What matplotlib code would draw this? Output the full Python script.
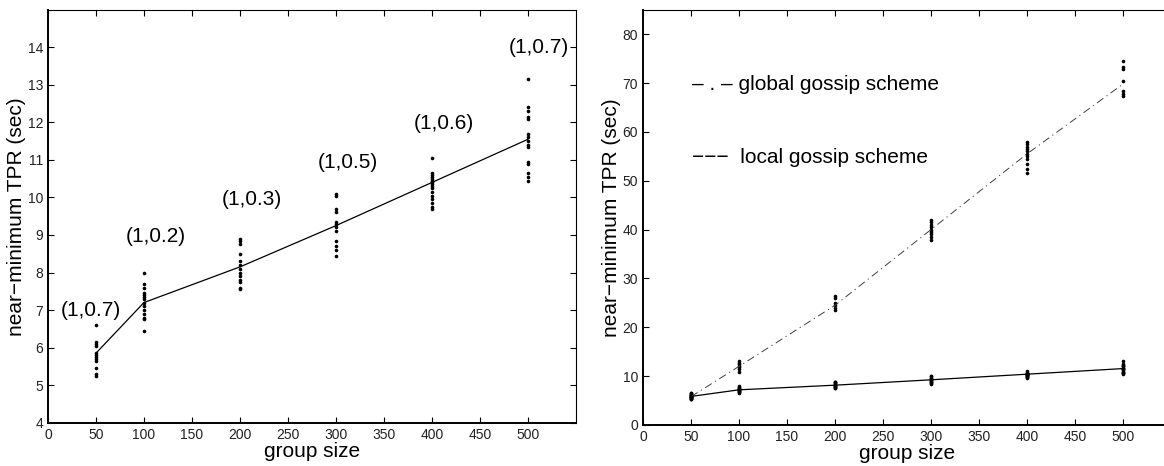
import matplotlib.pyplot as plt
import numpy as np

plt.rcParams['font.family'] = ['Liberation Sans', 'DejaVu Sans']

# group sizes
sizes = [50, 100, 200, 300, 400, 500]

# local gossip scheme: individual runs per group size
local_runs = [
    [5.25, 5.3, 5.45, 5.65, 5.7, 5.75, 5.8, 5.85, 6.05, 6.1, 6.15, 6.6],
    [6.45, 6.75, 6.8, 6.9, 7.0, 7.1, 7.2, 7.3, 7.35, 7.4, 7.45, 7.6, 7.7, 8.0],
    [7.55, 7.6, 7.75, 7.8, 7.9, 8.0, 8.1, 8.2, 8.3, 8.5, 8.75, 8.85, 8.9],
    [8.45, 8.6, 8.7, 8.85, 9.1, 9.2, 9.3, 9.35, 9.6, 9.7, 10.05, 10.1],
    [9.7, 9.75, 9.85, 9.95, 10.05, 10.15, 10.25, 10.3, 10.35, 10.4, 10.45,
     10.5, 10.55, 10.6, 10.65, 11.05],
    [10.45, 10.55, 10.65, 10.9, 10.95, 11.35, 11.4, 11.5, 11.6, 11.7, 12.1,
     12.15, 12.3, 12.4, 13.15],
]
local_mean = [5.85, 7.2, 8.15, 9.25, 10.4, 11.55]

# global gossip scheme
global_runs = [
    [5.3, 5.5, 5.7, 5.9, 6.1, 6.3, 6.5],
    [10.9, 11.5, 11.8, 12.1, 12.4, 12.7, 13.0],
    [23.5, 24.0, 24.5, 25.0, 26.0, 26.5],
    [37.8, 38.5, 39.0, 39.5, 40.0, 40.5, 41.0, 41.5, 42.0],
    [51.5, 52.5, 53.5, 54.5, 55.0, 55.5, 56.0, 56.5, 57.0, 57.5, 58.0],
    [67.3, 67.8, 68.3, 70.5, 72.8, 73.3, 74.5],
]
global_mean = [5.8, 12.0, 24.5, 40.0, 55.5, 69.8]

# (a, b) annotations on the left panel
ann_text = ['(1,0.7)', '(1,0.2)', '(1,0.3)', '(1,0.5)', '(1,0.6)', '(1,0.7)']
ann_x = [45, 112, 212, 312, 412, 511]
ann_y = [7.0, 8.95, 9.94, 10.94, 11.96, 14.0]


def scatter_runs(ax, runs):
    for x, vals in zip(sizes, runs):
        ax.plot([x] * len(vals), vals, 'o', color='k', ms=2.6, mew=0,
                linestyle='none')


def style(ax):
    ax.tick_params(direction='in', top=True, right=True, labelsize=10,
                   labelcolor='#222222', length=4, width=0.8)
    for s in ['left', 'bottom']:
        ax.spines[s].set_linewidth(1.4)
    for s in ['top', 'right']:
        ax.spines[s].set_linewidth(0.8)
    ax.set_xlabel('group size', fontsize=15, labelpad=0)
    ax.set_ylabel('near\u2212minimum TPR (sec)', fontsize=15, labelpad=1)


fig = plt.figure(figsize=(11.64, 4.66), dpi=100)

# left panel
ax1 = fig.add_axes([0.0412, 0.093, 0.4536, 0.886])
scatter_runs(ax1, local_runs)
ax1.plot(sizes, local_mean, '-', color='k', lw=0.9)
for t, x, y in zip(ann_text, ann_x, ann_y):
    ax1.text(x, y, t, fontsize=15, ha='center', va='center')
ax1.set_xlim(0, 550)
ax1.set_ylim(4, 15)
ax1.set_xticks(range(0, 501, 50))
ax1.set_yticks(range(4, 15))
style(ax1)

# right panel
ax2 = fig.add_axes([0.5524, 0.088, 0.4536, 0.891])
scatter_runs(ax2, global_runs)
scatter_runs(ax2, local_runs)
ax2.plot(sizes, global_mean, color='0.25', lw=0.7,
         linestyle=(0, (8, 4, 1.2, 4)))
ax2.plot(sizes, local_mean, '-', color='k', lw=0.9)
ax2.text(51, 69.7, '\u2013 . \u2013 global gossip scheme', fontsize=15,
         va='center')
ax2.text(51, 54.8, '\u2212\u2212\u2212  local gossip scheme', fontsize=15,
         va='center')
ax2.set_xlim(0, 550)
ax2.set_ylim(0, 85)
ax2.set_xticks(range(0, 501, 50))
ax2.set_yticks(range(0, 81, 10))
style(ax2)

fig.savefig('out.png', dpi=100)
